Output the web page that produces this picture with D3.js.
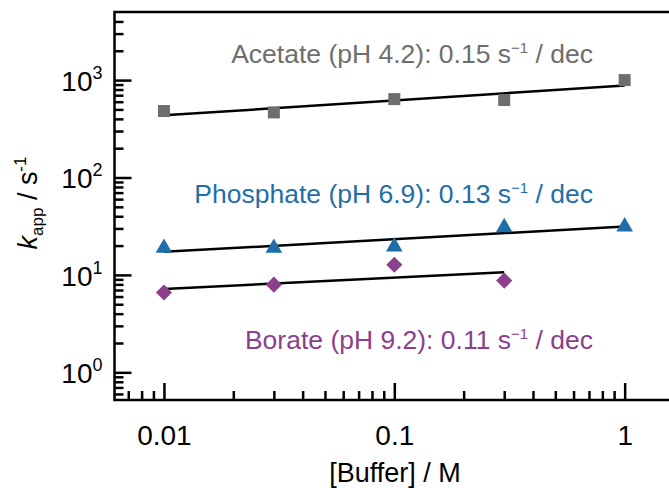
<!DOCTYPE html>
<html>
<head>
	<title>kapp vs buffer</title>
	<script src="https://cdn.jsdelivr.net/npm/d3@7"></script>
</head>
<style type="text/css">
	body { margin: 0; background-color: #fff; }
	text { font-family: "Liberation Sans", Arial, sans-serif; }
</style>
<body>
</body>
</html>
<script type="text/javascript">
	var width = 669;
	var height = 488;

	// buffer concentrations (M)
	var buffer = [0.01, 0.03, 0.1, 0.3, 1];
	// apparent rate constants, s^-1
	var acetate = [481, 466, 638, 624, 1000];
	var phosphate = [18.9, 18.9, 19.5, 30.8, 31.3];
	var borate = [6.6, 7.95, 12.7, 8.74];

	var names = ["Acetate (pH 4.2): 0.15 s", "Phosphate (pH 6.9): 0.13 s", "Borate (pH 9.2): 0.11 s"];
	var yMajor = [1, 10, 100, 1000];
	var yExp = ["0", "1", "2", "3"];
	var xMajor = [0.01, 0.1, 1];
	var xLabels = ["0.01", "0.1", "1"];

	var series = [
		{name: names[0], x: buffer, y: acetate, color: "#6e6e6e", shape: d3.symbolSquare, size: 144, rot: 0, ly: 63},
		{name: names[1], x: buffer, y: phosphate, color: "#1f6ea9", shape: d3.symbolTriangle, size: 120, rot: 0, ly: 203},
		{name: names[2], x: buffer.slice(0, borate.length), y: borate, color: "#8b3f8c", shape: d3.symbolSquare, size: 130, rot: 45, ly: 349}
	];

	var pLeft = 114.5, pTop = 12, pBottom = 400;
	var x = d3.scaleLog().domain([0.0061, 2]).range([pLeft, 694]);
	var y = d3.scaleLog().domain([0.52, 5000]).range([pBottom, pTop]);

	var svg = d3.select("body").append("svg").attr("width", width).attr("height", height);

	// minor ticks
	var xMinor = [], yMinor = [];
	[0.001, 0.01, 0.1, 1].forEach(function(d){
		for (var i = 2; i <= 9; i++) {
			var v = +(d * i).toPrecision(3);
			if (v > x.domain()[0] && v < x.domain()[1]) xMinor.push(v);
		}
	});
	[0.1, 1, 10, 100, 1000].forEach(function(d){
		for (var i = 2; i <= 9; i++) {
			var v = +(d * i).toPrecision(3);
			if (v > y.domain()[0] && v < y.domain()[1]) yMinor.push(v);
		}
	});

	svg.append("g").attr("transform", "translate(0," + pBottom + ")")
		.call(d3.axisBottom(x).tickValues(xMinor).tickSize(-9).tickFormat("").tickSizeOuter(0));
	svg.append("g").attr("transform", "translate(" + pLeft + ",0)")
		.call(d3.axisLeft(y).tickValues(yMinor).tickSize(-9).tickFormat("").tickSizeOuter(0));

	var xAx = svg.append("g").attr("transform", "translate(0," + pBottom + ")")
		.call(d3.axisBottom(x).tickValues(xMajor).tickSize(-17).tickPadding(25).tickSizeOuter(0)
			.tickFormat(function(d, i){ return xLabels[i]; }));
	var yAx = svg.append("g").attr("transform", "translate(" + pLeft + ",0)")
		.call(d3.axisLeft(y).tickValues(yMajor).tickSize(-17).tickPadding(12).tickSizeOuter(0)
			.tickFormat(function(){ return ""; }));

	svg.selectAll(".domain").remove();
	svg.selectAll(".tick line").attr("stroke", "#000").attr("stroke-width", 2.5);
	xAx.selectAll("text").attr("font-size", 28).attr("fill", "#000").attr("font-family", "Liberation Sans, Arial, sans-serif");

	yAx.selectAll("text").each(function(d, i){
		var t = d3.select(this).attr("font-size", 28).attr("fill", "#000").attr("dy", "0.36em")
			.attr("font-family", "Liberation Sans, Arial, sans-serif");
		t.text(null);
		t.append("tspan").text("10");
		t.append("tspan").attr("font-size", 18).attr("dy", -12).text(yExp[i]);
	});

	// frame
	svg.append("path")
		.attr("d", "M" + (width + 5) + "," + pTop + "H" + pLeft + "V" + pBottom + "H" + (width + 5))
		.attr("fill", "none").attr("stroke", "#000").attr("stroke-width", 2.5);

	// fit lines in log-log space
	series.forEach(function(s){
		var lx = s.x.map(Math.log10), ly = s.y.map(Math.log10);
		var mx = d3.mean(lx), my = d3.mean(ly);
		var slope = d3.sum(lx, function(v, i){ return (v - mx) * (ly[i] - my); }) / d3.sum(lx, function(v){ return (v - mx) * (v - mx); });
		var x0 = d3.min(s.x), x1 = d3.max(s.x);
		var f = function(v){ return Math.pow(10, my + slope * (Math.log10(v) - mx)); };
		svg.append("line")
			.attr("x1", x(x0)).attr("y1", y(f(x0)))
			.attr("x2", x(x1)).attr("y2", y(f(x1)))
			.attr("stroke", "#000").attr("stroke-width", 2.5);
	});

	series.forEach(function(s){
		svg.append("g").selectAll("path")
			.data(s.y)
			.enter()
			.append("path")
			.attr("d", d3.symbol().type(s.shape).size(s.size))
			.attr("transform", function(d, i){ return "translate(" + x(s.x[i]) + "," + y(d) + ") rotate(" + s.rot + ")"; })
			.attr("fill", s.color);

		var t = svg.append("text").attr("x", 593).attr("y", s.ly).attr("text-anchor", "end")
			.attr("font-size", 26.5).attr("fill", s.color);
		t.append("tspan").text(s.name);
		t.append("tspan").attr("font-size", 15).attr("dy", -10).text("\u22121");
		t.append("tspan").attr("dy", 10).text(" / dec");
	});

	// axis titles
	svg.append("text").attr("x", 395).attr("y", 482).attr("text-anchor", "middle")
		.attr("font-size", 27).text("[Buffer] / M");

	var yt = svg.append("text").attr("transform", "translate(37,203) rotate(-90)").attr("text-anchor", "middle")
		.attr("font-size", 27);
	yt.append("tspan").attr("font-style", "italic").text("k");
	yt.append("tspan").attr("font-size", 17).attr("dy", 6).text("app");
	yt.append("tspan").attr("dy", -6).text(" / s");
	yt.append("tspan").attr("font-size", 17).attr("dy", -11).text("-1");
</script>
